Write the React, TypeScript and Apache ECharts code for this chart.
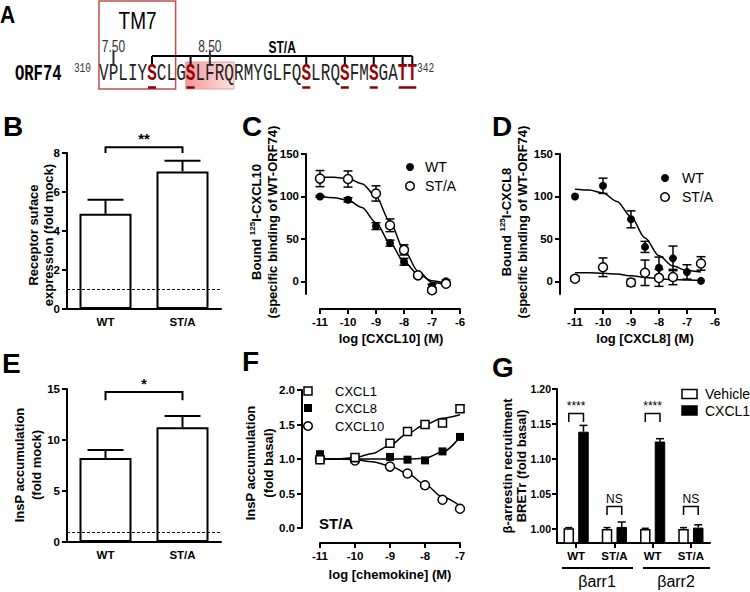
import React, { useEffect, useRef } from "react";
import * as echarts from "echarts";

const FONT = '"Liberation Sans", Arial, Helvetica, sans-serif';
const MONO = '"Liberation Mono", "Courier New", monospace';

// ---------- Panel A: ORF74 C-terminal sequence ----------
const seqResidues = "VPLIYSCLGSLFRQRMYGLFQSLRQSFMSGATT".split("");
const seqFirst = "310";
const seqLast = "342";
const phosphoIdx = [5, 9, 21, 25, 28, 31, 32];
const bwMarkers = [
  { label: "7.50", idx: 1 },
  { label: "8.50", idx: 11 },
];
const tm7Range = [0, 7];
const helix8Range = [9, 13];

// ---------- Panel B: surface expression ----------
const receptorCats = ["WT", "ST/A"];
const surfaceMean = [4.88, 7.05];
const surfaceSem = [0.72, 0.55];
const surfaceSig = ["**"];

// ---------- Panel E: InsP accumulation ----------
const inspMean = [8.24, 11.25];
const inspSem = [0.78, 1.1];
const inspSig = ["*"];

// ---------- Panel C: CXCL10 binding ----------
const doses = [-11, -10, -9, -8.5, -8, -7.5, -7, -6.5];
const fitDoses = [-11, -10.5, -10, -9.5, -9, -8.5, -8, -7.5, -7, -6.5];
const c10WT = [100, 96, 65, 45, 23, 7, -5.5, 0];
const c10WTErr = [1, 2.5, 4, 3.5, 4, 2, 2, 1.5];
const c10STA = [121, 120.5, 103.5, 66, 37, 7, -10.5, -3];
const c10STAErr = [9.5, 9.5, 9, 7.5, 6, 2, 2, 2];
const c10WTFit = [99.5, 98.5, 95.5, 87, 69, 45, 23, 8.5, 0.5, -2.5];
const c10STAFit = [123, 122.5, 121, 115, 100, 70, 37, 12, -1.5, -4];

// ---------- Panel D: CXCL8 binding ----------
const c8WT = [100, 112.5, 73, 40.5, 16, 27, 11, 0.5];
const c8WTErr = [0, 9, 10, 6.5, 12.5, 14.5, 8.5, 0];
const c8STA = [3, 16.5, -1.5, 10, 4, 5, null, 21];
const c8STAErr = [3, 11, 4, 15, 10, 9, null, 8];
const c8WTFit = [108.5, 107.5, 104, 94, 76, 51, 30, 18, 12.5, 11];
const c8STAFit = [10, 10, 9.5, 8.5, 6.5, 4.5, 3, 2, 1.5, 1];

// ---------- Panel F: InsP, ST/A ----------
const fDoses = [-11, -10, -9, -8.5, -8, -7.5, -7];
const fFitDoses = [-11, -10.5, -10, -9.5, -9, -8.5, -8, -7.5, -7];
const fCXCL1 = [0.99, 1.02, 1.23, 1.4, 1.5, 1.52, 1.73];
const fCXCL1Err = [0.02, 0.02, 0.02, 0.02, 0.03, 0.04, 0.05];
const fCXCL8 = [1.07, 1.01, 1.03, 0.99, 0.98, 1.11, 1.32];
const fCXCL10 = [1.0, 0.98, 0.89, 0.79, 0.62, 0.41, 0.28];
const fCXCL1Fit = [1.0, 1.0, 1.02, 1.08, 1.2, 1.37, 1.5, 1.59, 1.64];
const fCXCL8Fit = [1.0, 1.0, 1.0, 1.0, 1.0, 1.0, 1.01, 1.1, 1.32];
const fCXCL10Fit = [1.0, 1.0, 0.99, 0.96, 0.9, 0.79, 0.63, 0.45, 0.32];

// ---------- Panel G: beta-arrestin ----------
const gCats = ["WT", "ST/A", "WT", "ST/A"];
const gVehicle = [1.001, 1.0, 1.0, 1.0];
const gVehicleErr = [0.001, 0.002, 0.001, 0.002];
const gCXCL1 = [1.139, 1.003, 1.125, 1.002];
const gCXCL1Err = [0.009, 0.007, 0.004, 0.004];
const gSig = ["****", "NS", "****", "NS"];
const gSigTop = [1.165, 1.032, 1.165, 1.032];
const gGroups = ["βarr1", "βarr2"];

type Opt = Record<string, any>;

function txt(text: string, x: number, y: number, o: Opt = {}) {
  const align = o.align || "center";
  const valign = o.valign || "middle";
  return {
    type: "text",
    x,
    y,
    rotation: o.rot || 0,
    scaleX: o.sx || 1,
    scaleY: o.sy || 1,
    silent: true,
    z: 100,
    style: {
      text,
      fill: o.color || "#000",
      fontFamily: o.family || FONT,
      fontSize: o.size || 13,
      fontWeight: o.weight || "normal",
      textAlign: align,
      textVerticalAlign: valign,
      align,
      verticalAlign: valign,
      rich: o.rich,
    },
  };
}

function ln(x1: number, y1: number, x2: number, y2: number, o: Opt = {}) {
  return {
    type: "line",
    silent: true,
    z: 100,
    shape: { x1, y1, x2, y2 },
    style: { stroke: o.color || "#000", lineWidth: o.w || 2 },
  };
}

const pairs = (xs: number[], ys: (number | null)[]) =>
  xs.map((x, i) => (ys[i] == null ? null : [x, ys[i]])).filter(Boolean);

function errSeries(xi: number, xs: number[], means: (number | null)[], errs: (number | null)[], o: Opt = {}) {
  const data = xs
    .map((x, i) =>
      means[i] == null || !errs[i]
        ? null
        : [x, o.upper ? (means[i] as number) : (means[i] as number) - (errs[i] as number), (means[i] as number) + (errs[i] as number)]
    )
    .filter(Boolean);
  return {
    type: "custom",
    xAxisIndex: xi,
    yAxisIndex: xi,
    z: o.z ?? 3,
    silent: true,
    clip: false,
    encode: { x: 0, y: [1, 2] },
    data,
    renderItem: (params: any, api: any) => {
      const x = api.value(0);
      const p1 = api.coord([x, api.value(1)]);
      const p2 = api.coord([x, api.value(2)]);
      const cx = p1[0] + (o.offset || 0);
      const cw = o.cap || 8;
      const st = { stroke: "#000", lineWidth: o.lw || 1.5 };
      const children: any[] = [
        { type: "line", shape: { x1: cx, y1: p1[1], x2: cx, y2: p2[1] }, style: st },
        { type: "line", shape: { x1: cx - cw / 2, y1: p2[1], x2: cx + cw / 2, y2: p2[1] }, style: st },
      ];
      if (!o.upper)
        children.push({ type: "line", shape: { x1: cx - cw / 2, y1: p1[1], x2: cx + cw / 2, y2: p1[1] }, style: st });
      return { type: "group", children };
    },
  };
}

function bracketSeries(xi: number, spans: number[][], labels: string[], o: Opt = {}) {
  return {
    type: "custom",
    xAxisIndex: xi,
    yAxisIndex: xi,
    z: 6,
    silent: true,
    clip: false,
    encode: { x: [0, 1], y: [2, 3] },
    data: spans,
    renderItem: (params: any, api: any) => {
      const a = api.coord([api.value(0), api.value(2)]);
      const b = api.coord([api.value(1), api.value(2)]);
      const c = api.coord([api.value(0), api.value(3)]);
      const ax = a[0] + (o.off1 || 0);
      const bx = b[0] + (o.off2 || 0);
      return {
        type: "group",
        children: [
          {
            type: "polyline",
            shape: { points: [[ax, c[1]], [ax, a[1]], [bx, a[1]], [bx, c[1]]] },
            style: { stroke: "#000", fill: "none", lineWidth: o.lw || 2 },
          },
          {
            type: "text",
            x: (ax + bx) / 2,
            y: a[1] - (o.dy || 8),
            style: {
              text: labels[params.dataIndex],
              fill: "#000",
              fontFamily: FONT,
              fontSize: o.size || 13,
              fontWeight: o.weight || "normal",
              textAlign: "center",
              textVerticalAlign: "middle",
              align: "center",
              verticalAlign: "middle",
            },
          },
        ],
      };
    },
  };
}

const axisLine = { show: true, onZero: false, lineStyle: { color: "#000", width: 2 } };
const axisTick = { show: true, length: 5, lineStyle: { color: "#000", width: 2 } };
const axisLabel = { color: "#000", fontFamily: FONT, fontWeight: "bold", fontSize: 11.5 };
const noSplit = { show: false };

function valueY(gi: number, min: number, max: number, ticks: number[], o: Opt = {}) {
  return {
    gridIndex: gi,
    type: "value",
    min,
    max,
    offset: o.offset || 0,
    axisLine,
    axisTick: { ...axisTick, customValues: ticks },
    axisLabel: { ...axisLabel, fontSize: o.size || 11.5, margin: o.margin || 7, customValues: ticks, formatter: o.fmt },
    splitLine: noSplit,
  };
}

function logX(gi: number, min: number, max: number, offset: number) {
  return {
    gridIndex: gi,
    type: "value",
    min,
    max,
    interval: 1,
    offset,
    axisLine,
    axisTick,
    axisLabel: { ...axisLabel, margin: 7 },
    splitLine: noSplit,
  };
}

function catX(gi: number, cats: string[], o: Opt = {}) {
  return {
    gridIndex: gi,
    type: "category",
    data: cats,
    axisLine,
    axisTick: o.ticks ? { ...axisTick, alignWithLabel: true } : { show: false },
    axisLabel: { ...axisLabel, margin: 7, interval: 0 },
    splitLine: noSplit,
  };
}

const fitLine = (xi: number, xs: number[], ys: number[]) => ({
  type: "line",
  xAxisIndex: xi,
  yAxisIndex: xi,
  data: pairs(xs, ys),
  smooth: 0.3,
  smoothMonotone: "x",
  showSymbol: false,
  symbol: "none",
  silent: true,
  z: 2,
  lineStyle: { color: "#000", width: 1.5 },
});

const scatter = (xi: number, name: string, xs: number[], ys: (number | null)[], symbol: string, filled: boolean, size = 8) => ({
  type: "scatter",
  name,
  xAxisIndex: xi,
  yAxisIndex: xi,
  data: pairs(xs, ys),
  symbol,
  symbolSize: size,
  z: 5,
  silent: true,
  itemStyle: filled
    ? { color: "#000", opacity: 1 }
    : { color: "#fff", borderColor: "#000", borderWidth: 1.5, opacity: 1 },
});

function buildGraphics() {
  const CW = 9.64;
  const X0 = 99;
  const SEQ_Y = 74;
  const cx = (i: number) => X0 + (i + 0.5) * CW;
  const g: any[] = [];
  // Panel A
  g.push(txt("A", 0, 15, { size: 21, weight: "bold", align: "left", sy: 1.15 }));
  g.push({
    type: "rect",
    silent: true,
    shape: { x: X0 + tm7Range[0] * CW, y: 1, width: (tm7Range[1] - tm7Range[0] + 1) * CW - 0.5, height: 88 },
    style: { fill: "none", stroke: "#c0504d", lineWidth: 1.5 },
  });
  g.push(txt("TM7", X0 + ((tm7Range[1] + 1) * CW) / 2, 21, { size: 19, sy: 1.25 }));
  g.push({
    type: "rect",
    silent: true,
    shape: { x: X0 + helix8Range[0] * CW, y: 62, width: (helix8Range[1] - helix8Range[0] + 1) * CW, height: 27 },
    style: {
      fill: {
        type: "linear",
        x: 0,
        y: 0,
        x2: 1,
        y2: 0,
        colorStops: [
          { offset: 0, color: "#f29a9a" },
          { offset: 1, color: "#fbe1e1" },
        ],
      },
      stroke: "#e0a0a0",
      lineWidth: 1,
    },
  });
  const first = phosphoIdx[0];
  const last = phosphoIdx[phosphoIdx.length - 1];
  g.push(ln(cx(first), 56, cx(last), 56, { w: 2 }));
  phosphoIdx.forEach((i) => g.push(ln(cx(i), 56, cx(i), 64, { w: 2 })));
  bwMarkers.forEach((m) => {
    g.push(ln(cx(m.idx), 51, cx(m.idx), 65, { w: 2, color: "#333" }));
    g.push(txt(m.label, cx(m.idx), 46, { size: 12, sy: 1.35, color: "#333" }));
  });
  g.push(txt("ST/A", (cx(first) + cx(last)) / 2, 47, { size: 12, weight: "bold", sy: 1.3 }));
  g.push(txt("ORF74", 15, SEQ_Y, { family: MONO, size: 15.5, weight: "bold", align: "left", sy: 1.4 }));
  g.push(txt(seqFirst, X0 - 8, 69, { family: MONO, size: 9.5, align: "right", sy: 1.3, color: "#333" }));
  g.push(txt(seqLast, X0 + seqResidues.length * CW, 69, { family: MONO, size: 9.5, align: "left", sy: 1.3, color: "#333" }));
  seqResidues.forEach((r, i) => {
    const p = phosphoIdx.includes(i);
    g.push(
      txt(r, cx(i), SEQ_Y, {
        family: MONO,
        size: 16,
        sy: 1.5,
        weight: p ? "bold" : "normal",
        color: p ? "#9a0000" : "#222",
      })
    );
  });
  // underline runs
  let runStart = phosphoIdx[0];
  for (let k = 1; k <= phosphoIdx.length; k++) {
    const prev = phosphoIdx[k - 1];
    const cur = phosphoIdx[k];
    if (cur !== prev + 1) {
      g.push(ln(cx(runStart) - 4, 87.5, cx(prev) + 4, 87.5, { w: 2.5, color: "#8b0000" }));
      runStart = cur;
    }
  }

  // Panel letters
  g.push(txt("B", 3, 126, { size: 28, weight: "bold", align: "left" }));
  g.push(txt("C", 242, 126, { size: 28, weight: "bold", align: "left" }));
  g.push(txt("D", 492, 126, { size: 28, weight: "bold", align: "left" }));
  g.push(txt("E", 2, 363, { size: 28, weight: "bold", align: "left" }));
  g.push(txt("F", 242, 361, { size: 28, weight: "bold", align: "left" }));
  g.push(txt("G", 492, 367, { size: 28, weight: "bold", align: "left" }));

  const R = Math.PI / 2;
  const ybold = { size: 13, weight: "bold", rot: R };
  // B
  g.push(txt("Receptor suface", 33, 235, ybold));
  g.push(txt("expression (fold mock)", 48, 235, ybold));
  // C, D
  const supRich = {
    n: { fontSize: 13, fontWeight: "bold", fontFamily: FONT, fill: "#000", lineHeight: 16 },
    s: { fontSize: 8, fontWeight: "bold", fontFamily: FONT, fill: "#000", lineHeight: 9, verticalAlign: "top" },
  };
  g.push(txt("{n|Bound }{s|125}{n|I-CXCL10}", 256, 222, { ...ybold, rich: supRich }));
  g.push(txt("(specific binding of WT-ORF74)", 272, 222, ybold));
  g.push(txt("{n|Bound }{s|125}{n|I-CXCL8}", 506, 222, { ...ybold, rich: supRich }));
  g.push(txt("(specific binding of WT-ORF74)", 522, 222, ybold));
  // E
  g.push(txt("InsP accumulation", 19, 465, ybold));
  g.push(txt("(fold mock)", 36, 465, ybold));
  // F
  g.push(txt("InsP accumulation", 250, 463, ybold));
  g.push(txt("(fold basal)", 268, 463, ybold));
  // G
  g.push(txt("β-arrestin recruitment", 507, 466, ybold));
  g.push(txt("BRETr (fold basal)", 521, 466, ybold));

  // x titles
  g.push(txt("log [CXCL10] (M)", 391, 338, { size: 13, weight: "bold" }));
  g.push(txt("log [CXCL8] (M)", 645, 338, { size: 13, weight: "bold" }));
  g.push(txt("log [chemokine] (M)", 390, 574, { size: 13, weight: "bold" }));

  // Legends C, D
  const legendCirc = (x: number, y: number, filled: boolean) => ({
    type: "circle",
    silent: true,
    z: 100,
    shape: { cx: x, cy: y, r: filled ? 4 : 4.3 },
    style: filled ? { fill: "#000" } : { fill: "#fff", stroke: "#000", lineWidth: 1.5 },
  });
  g.push(legendCirc(410, 167, true), txt("WT", 425, 167, { size: 14, align: "left" }));
  g.push(legendCirc(410, 186, false), txt("ST/A", 425, 186, { size: 14, align: "left" }));
  g.push(legendCirc(665, 178, true), txt("WT", 682, 178, { size: 14, align: "left" }));
  g.push(legendCirc(665, 197, false), txt("ST/A", 682, 197, { size: 14, align: "left" }));
  // Legend F
  g.push({ type: "rect", silent: true, z: 100, shape: { x: 304, y: 387, width: 8, height: 8 }, style: { fill: "#fff", stroke: "#000", lineWidth: 1.5 } });
  g.push(txt("CXCL1", 335, 391, { size: 13, align: "left" }));
  g.push({ type: "rect", silent: true, z: 100, shape: { x: 304, y: 404, width: 8, height: 8 }, style: { fill: "#000" } });
  g.push(txt("CXCL8", 335, 408, { size: 13, align: "left" }));
  g.push(legendCirc(308, 426, false));
  g.push(txt("CXCL10", 335, 426, { size: 13, align: "left" }));
  g.push(txt("ST/A", 319, 523, { size: 15, weight: "bold", align: "left" }));
  // Legend G
  g.push({ type: "rect", silent: true, z: 100, shape: { x: 682, y: 389.5, width: 15, height: 9 }, style: { fill: "#fff", stroke: "#000", lineWidth: 1.5 } });
  g.push(txt("Vehicle", 705, 394, { size: 14, align: "left" }));
  g.push({ type: "rect", silent: true, z: 100, shape: { x: 682, y: 406, width: 15, height: 9 }, style: { fill: "#000", stroke: "#000", lineWidth: 1.5 } });
  g.push(txt("CXCL1", 705, 411, { size: 14, align: "left" }));
  // G group labels
  g.push(ln(562, 568, 633, 568, { w: 2 }));
  g.push(ln(643, 568, 710, 568, { w: 2 }));
  g.push(txt(gGroups[0], 597, 581, { size: 16 }));
  g.push(txt(gGroups[1], 676, 581, { size: 16 }));
  return g;
}

function buildOption() {
  const catIdx = receptorCats.map((_, i) => i);
  const gIdx = gCats.map((_, i) => i);
  return {
    animation: false,
    backgroundColor: "#fff",
    grid: [
      { left: 67, top: 153, width: 154, height: 156 },
      { left: 320, top: 154, width: 140, height: 140 },
      { left: 575, top: 154, width: 140, height: 140 },
      { left: 67, top: 389, width: 154, height: 153 },
      { left: 320, top: 390, width: 140, height: 138 },
      { left: 557, top: 389, width: 153, height: 154 },
    ],
    xAxis: [
      catX(0, receptorCats),
      logX(1, -11, -6, 15),
      logX(2, -11, -6, 15),
      catX(3, receptorCats),
      logX(4, -11, -7, 15),
      catX(5, gCats, { ticks: true }),
    ],
    yAxis: [
      valueY(0, 0, 8, [0, 2, 4, 6, 8]),
      valueY(1, -15, 150, [0, 50, 100, 150], { offset: 14 }),
      valueY(2, -15, 150, [0, 50, 100, 150], { offset: 15 }),
      valueY(3, 0, 15, [0, 5, 10, 15]),
      valueY(4, 0, 2, [0, 0.5, 1, 1.5, 2], { offset: 18, fmt: (v: number) => v.toFixed(1) }),
      valueY(5, 0.98, 1.2, [1.0, 1.05, 1.1, 1.15, 1.2], { fmt: (v: number) => v.toFixed(2), size: 10.5, margin: 6 }),
    ],
    series: [
      // B
      {
        type: "bar",
        name: "surface",
        xAxisIndex: 0,
        yAxisIndex: 0,
        data: surfaceMean,
        barWidth: 52,
        silent: true,
        z: 2,
        itemStyle: { color: "#fff", borderColor: "#000", borderWidth: 2 },
        markLine: {
          silent: true,
          symbol: ["none", "none"],
          label: { show: false },
          lineStyle: { type: [3, 2], color: "#000", width: 1 },
          data: [{ yAxis: 1 }],
        },
      },
      errSeries(0, catIdx, surfaceMean, surfaceSem, { upper: true, cap: 36, lw: 2 }),
      bracketSeries(0, [[0, 1, 8.3, 8.0]], surfaceSig, { dy: 9, size: 15, weight: "bold" }),
      // C
      fitLine(1, fitDoses, c10WTFit),
      fitLine(1, fitDoses, c10STAFit),
      errSeries(1, doses, c10WT, c10WTErr, { cap: 9 }),
      errSeries(1, doses, c10STA, c10STAErr, { cap: 9 }),
      scatter(1, "WT", doses, c10WT, "circle", true, 8),
      scatter(1, "ST/A", doses, c10STA, "circle", false, 9),
      // D
      fitLine(2, fitDoses, c8WTFit),
      fitLine(2, fitDoses, c8STAFit),
      errSeries(2, doses, c8WT, c8WTErr, { cap: 9 }),
      errSeries(2, doses, c8STA, c8STAErr, { cap: 9 }),
      scatter(2, "ST/A", doses, c8STA, "circle", false, 9),
      scatter(2, "WT", doses, c8WT, "circle", true, 8),
      // E
      {
        type: "bar",
        name: "insp",
        xAxisIndex: 3,
        yAxisIndex: 3,
        data: inspMean,
        barWidth: 52,
        silent: true,
        z: 2,
        itemStyle: { color: "#fff", borderColor: "#000", borderWidth: 2 },
        markLine: {
          silent: true,
          symbol: ["none", "none"],
          label: { show: false },
          lineStyle: { type: [3, 2], color: "#000", width: 1 },
          data: [{ yAxis: 1 }],
        },
      },
      errSeries(3, catIdx, inspMean, inspSem, { upper: true, cap: 36, lw: 2 }),
      bracketSeries(3, [[0, 1, 14.7, 13.9]], inspSig, { dy: 8, size: 14, weight: "bold" }),
      // F
      fitLine(4, fFitDoses, fCXCL1Fit),
      fitLine(4, fFitDoses, fCXCL8Fit),
      fitLine(4, fFitDoses, fCXCL10Fit),
      errSeries(4, fDoses, fCXCL1, fCXCL1Err, { cap: 9 }),
      scatter(4, "CXCL10", fDoses, fCXCL10, "circle", false, 9),
      scatter(4, "CXCL8", fDoses, fCXCL8, "rect", true, 8),
      scatter(4, "CXCL1", fDoses, fCXCL1, "rect", false, 8),
      // G
      {
        type: "bar",
        name: "Vehicle",
        xAxisIndex: 5,
        yAxisIndex: 5,
        data: gVehicle,
        barWidth: 10.5,
        barGap: "40%",
        silent: true,
        itemStyle: { color: "#fff", borderColor: "#000", borderWidth: 1.5 },
      },
      {
        type: "bar",
        name: "CXCL1 ",
        xAxisIndex: 5,
        yAxisIndex: 5,
        data: gCXCL1,
        barWidth: 10.5,
        barGap: "40%",
        silent: true,
        itemStyle: { color: "#000", borderColor: "#000", borderWidth: 1 },
      },
      errSeries(5, gIdx, gVehicle, gVehicleErr, { upper: true, cap: 7, offset: -7.35 }),
      errSeries(5, gIdx, gCXCL1, gCXCL1Err, { upper: true, cap: 8, offset: 7.35 }),
      bracketSeries(
        5,
        gIdx.map((i) => [i, i, gSigTop[i], gSigTop[i] - 0.012]),
        gSig,
        { off1: -7.35, off2: 7.35, dy: 8, size: 12, lw: 1.5 }
      ),
    ],
    graphic: buildGraphics(),
  };
}

export default function App() {
  const ref = useRef<HTMLDivElement>(null);
  useEffect(() => {
    document.body.style.margin = "0";
    const chart = echarts.init(ref.current as HTMLDivElement, null, { renderer: "svg" });
    chart.setOption(buildOption() as any);
    return () => chart.dispose();
  }, []);
  return <div ref={ref} style={{ width: 750, height: 592, background: "#fff" }} />;
}
